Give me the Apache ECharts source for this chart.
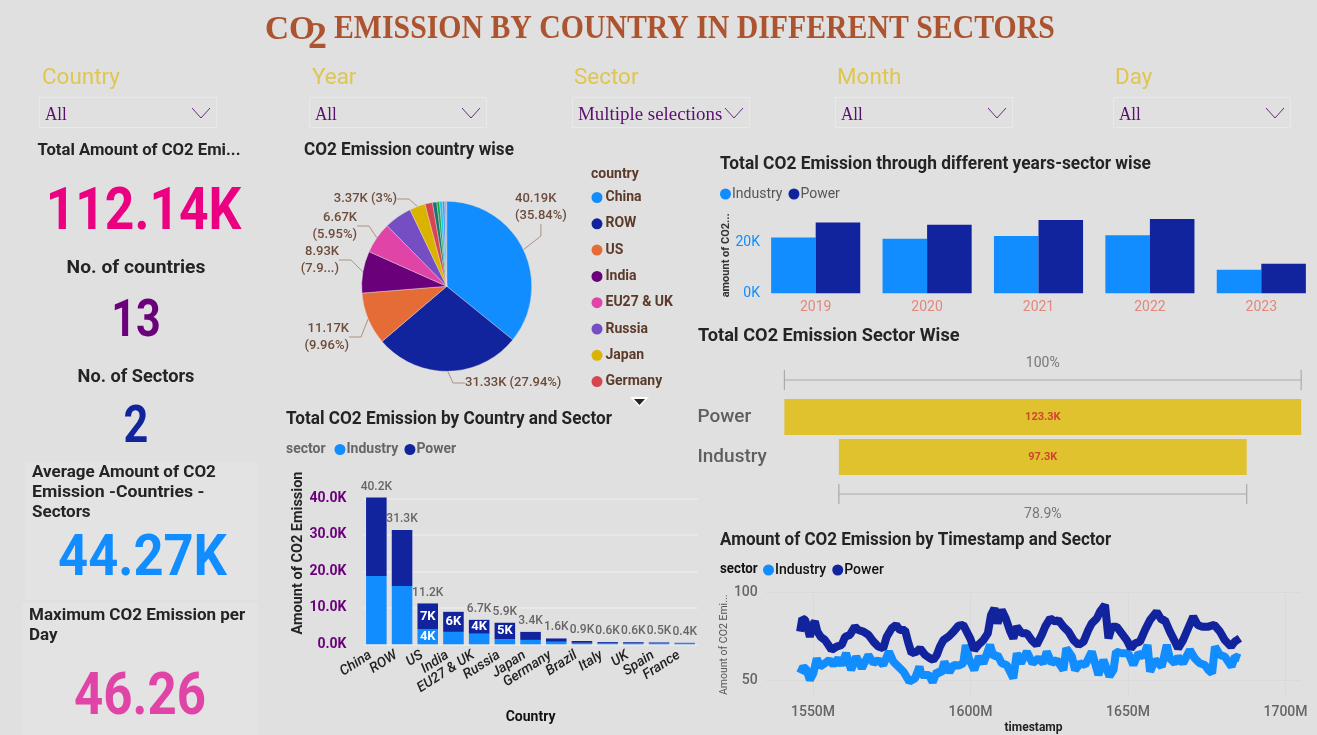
<!DOCTYPE html>
<html><head><meta charset="utf-8">
<style>html,body{margin:0;padding:0;background:#E0E0E0;width:100%;height:100%;overflow:hidden}#c{width:1317px;height:735px}</style>
<script src="https://cdn.jsdelivr.net/npm/echarts@6/dist/echarts.min.js"></script>
</head><body><div id="c"></div>
<script>
const BLUE='#118DFF', NAVY='#12239E';
const countries=['China','ROW','US','India','EU27 & UK','Russia','Japan','Germany','Brazil','Italy','UK','Spain','France'];
const countryTotals=[40.19,31.33,11.17,8.93,6.67,5.9,3.37,1.6,0.9,0.6,0.6,0.5,0.4];
const countryPercents=[35.84,27.94,9.96,7.96,5.95,5.26,3,1.43,0.8,0.54,0.54,0.45,0.36];
const countryColors=['#118DFF','#12239E','#E66C37','#6B007B','#E044A7','#744EC2','#D9B300','#D64550','#197278','#1AAB40','#15C6F4','#4092FF','#A8A8C8'];
const industryByCountry=[18.7,16.0,4.1,3.4,2.9,1.4,1.2,0.7,0.4,0.3,0.4,0.35,0.3];
const powerByCountry=[21.5,15.3,7.1,5.5,3.8,4.5,2.2,0.9,0.5,0.3,0.2,0.15,0.1];
const years=['2019','2020','2021','2022','2023'];
const industryByYear=[22.1,21.6,22.6,22.9,9.3];
const powerByYear=[28.0,27.1,29.0,29.4,11.7];
const sectors=['Power','Industry'];
const sectorTotals=[123.3,97.3];
const powerSeries=[[1545.9,77.5],[1546.6,85],[1547.5,84.1],[1548.2,80.3],[1549,74.6],[1549.9,81.3],[1550.6,83.2],[1551.4,77.5],[1552.4,74.6],[1553.8,72.7],[1554.9,69.9],[1555.9,67.1],[1557.5,69],[1559.1,69.9],[1560.2,74.6],[1561.7,75.6],[1563.3,80.3],[1564.4,78.4],[1566,77.5],[1567.6,75.6],[1569.2,71.8],[1570.7,69],[1572.3,68],[1573.4,74.6],[1575,79.4],[1576.4,81.3],[1577.6,78.4],[1579.2,78.4],[1580.3,70.9],[1581.3,65.2],[1582.9,66.1],[1584,68],[1585.6,64.2],[1587.2,62.3],[1588.2,61.4],[1589.3,64.2],[1590.3,69],[1591.4,72.7],[1593,74.6],[1594.6,77.5],[1596.2,80.9],[1597.7,81.3],[1598.8,77.5],[1599.9,73.7],[1601.2,67.1],[1602.5,69.9],[1604.1,72.7],[1605.5,76.5],[1606.5,86.9],[1607.6,90.7],[1608.6,82.2],[1609.9,89.8],[1611.2,85],[1612.6,77.5],[1613.6,73.7],[1614.7,80.3],[1616.3,76.5],[1617.9,76.5],[1619.4,72.7],[1621,69.9],[1622.6,75.6],[1623.7,80.3],[1625.3,85],[1626.9,83.2],[1627.9,84.1],[1629.5,80.3],[1631.1,77.5],[1632.7,72.7],[1634.3,69.9],[1635.9,71.8],[1637.4,78.4],[1638.5,82.2],[1640.1,85],[1641.1,88.8],[1642.7,92.6],[1643.8,73.7],[1644.9,80.3],[1646.4,80.3],[1648,76.5],[1649.6,72.7],[1650.9,68],[1652.3,70.9],[1653.8,71.8],[1655.4,78.4],[1657,84.1],[1659.1,88.8],[1660.7,84.1],[1661.7,84.1],[1663.3,77.5],[1664.9,71.8],[1665.9,68],[1667.5,72.7],[1669.1,79.4],[1670.7,86],[1672.1,81.3],[1673.6,80.3],[1675.5,80.3],[1677.4,81.3],[1679.2,77.5],[1680.7,72.7],[1682.7,69],[1683.9,71.8],[1685.5,73.7]];
const industrySeries=[[1545.9,53.8],[1546.9,57.6],[1548,55.7],[1549,50],[1550.1,53.8],[1551.2,62.3],[1552.2,57.6],[1553.8,59.5],[1555.2,61.4],[1556.5,58.5],[1558,62.3],[1559.1,58.5],[1560.5,65.2],[1562.1,55.7],[1563.7,63.3],[1565.5,56.7],[1567.6,64.2],[1569.2,59.5],[1570.7,61.4],[1572.3,58.5],[1574.1,66.1],[1575.5,60.4],[1577.1,57.6],[1578.7,54.8],[1580.6,49.1],[1582.4,51],[1583.8,57.6],[1584.4,52.9],[1585.6,52.9],[1586.8,52.9],[1588,48.7],[1589.3,54.8],[1590.7,53.8],[1591.7,60.4],[1593.3,54.4],[1594.6,58.5],[1596.2,58.2],[1597.7,59.5],[1598.5,69.9],[1599.5,62.3],[1601.2,55.7],[1602.7,63.3],[1604.1,59.5],[1606.2,69.9],[1607.3,63.3],[1608.6,64.2],[1609.9,59.5],[1611.5,58.5],[1613.6,51],[1614.7,65.2],[1616,59.5],[1617.9,66.1],[1619.7,59.5],[1621.6,62.3],[1623.1,59.5],[1624.2,66.1],[1625.8,59.5],[1627.4,61.4],[1629.5,55.7],[1630.4,68],[1632.2,63.3],[1633.2,55.7],[1634.8,59.5],[1636.4,58.5],[1638.5,66.1],[1640.6,52.9],[1642.2,61.4],[1644.1,52],[1645.4,55.7],[1646.2,66.1],[1648,65.2],[1650.1,65.2],[1651.7,58.5],[1653.3,65.2],[1654.9,63.3],[1656.2,69.9],[1657,54.8],[1658.6,61.4],[1660.7,57.6],[1662.3,69.9],[1663.3,62.3],[1664.9,59.5],[1665.9,63.3],[1667.5,59.5],[1669.6,67.1],[1671.2,62.3],[1672.8,59.5],[1674.4,58.5],[1675.5,55.7],[1676.7,53.8],[1677.6,69],[1679.2,64.2],[1680.7,63.3],[1682.9,57.6],[1683.9,63.3],[1685.5,62.3]];
const slicerLabels=['Country','Year','Sector','Month','Day'];
const slicerValues=['All','All','Multiple selections','All','All'];

const UI='Roboto, sans-serif', SERIF='"Liberation Serif", serif';
function t(text,x,y,size,fill,weight,align,family,sx){
  const yy=(family===SERIF)?y:y+size*0.09;
  return {type:'text',x:x,y:yy,scaleX:sx||1,silent:true,style:{text:text,fill:fill,fontSize:size,fontWeight:weight||'normal',fontFamily:family||UI,textAlign:align||'left',textVerticalAlign:'middle'}};
}
const g=[];
g.push({type:'rect',shape:{x:25,y:462,width:233,height:138},style:{fill:'#E3E3E3'},z:-1});
g.push({type:'rect',shape:{x:22,y:603,width:236,height:132},style:{fill:'#E3E3E3'},z:-1});
const TITLE='#AC5430';
g.push(t('CO',265,30,34,TITLE,'bold','left',SERIF,0.98));
g.push(t('2',308,38,38,TITLE,'bold','left',SERIF,1));
g.push(t('EMISSION BY COUNTRY IN DIFFERENT SECTORS',334,29,34,TITLE,'bold','left',SERIF,0.876));
const slicerX=[39,309,572,835,1113], slicerLabelX=[42,312,574,837,1115];
slicerLabels.forEach((s,i)=>{
  g.push(t(s,slicerLabelX[i],77,22,'#DFC650','normal','left',UI,1.02));
  g.push({type:'rect',shape:{x:slicerX[i]+.5,y:97.5,width:177,height:30},style:{fill:'none',stroke:'#E9E9E9',lineWidth:1}});
  g.push(t(slicerValues[i],slicerX[i]+6,115,18,'#5A0F6E','normal','left',SERIF,i===2?1.05:0.95));
  const cx=slicerX[i]+162;
  g.push({type:'polyline',shape:{points:[[cx-9,108],[cx,118],[cx+9,108]]},style:{stroke:'#6B2A80',lineWidth:1,fill:'none'}});
});
const KT='#252423';
g.push(t('Total Amount of CO2 Emi...',139,149,17,KT,'bold','center',UI,0.98));
g.push(t('112.14K',143.5,209.5,58.6,'#EB0082','bold','center',UI,0.88));
g.push(t('No. of countries',136,267,18,KT,'bold','center',UI,1.07));
g.push(t('13',136,318.5,52,'#6B007B','bold','center',UI,0.83));
g.push(t('No. of Sectors',136,376,18,KT,'bold','center',UI,1.01));
g.push(t('2',136,424.5,52,NAVY,'bold','center',UI,0.83));
g.push(t('Average Amount of CO2',32,471,17,KT,'bold','left',UI,1));
g.push(t('Emission -Countries -',32,491,17,KT,'bold','left',UI,1.04));
g.push(t('Sectors',32,511,17,KT,'bold','left',UI,1));
g.push(t('44.27K',142.5,555.7,57,BLUE,'bold','center',UI,0.92));
g.push(t('Maximum CO2 Emission per',29,614,17,KT,'bold','left',UI,1));
g.push(t('Day',29,634,17,KT,'bold','left',UI,1));
g.push(t('46.26',140,694,60,'#E044A7','bold','center',UI,0.85));
g.push(t('CO2 Emission country wise',304,149,18,KT,'bold','left',UI,0.952));
g.push(t('country',591,173,14,'#5C3A2A','bold','left',UI,1));
g.push({type:'polygon',shape:{points:[[630,397],[649,397],[639.5,407]]},style:{fill:'#FFFFFF'}});
g.push({type:'polygon',shape:{points:[[634,399],[645,399],[639.5,405]]},style:{fill:'#252423'}});
g.push(t('Total CO2 Emission by Country and Sector',286,418,18,KT,'bold','left',UI,0.955));
g.push(t('sector',286,448,14,'#666666','bold','left',UI,1));
g.push(t('Total CO2 Emission through different years-sector wise',720,163,18,KT,'bold','left',UI,0.963));
g.push(t('Total CO2 Emission Sector Wise',698,335,18,KT,'bold','left',UI,1.01));
g.push(t('Amount of CO2 Emission by Timestamp and Sector',720,539,18,KT,'bold','left',UI,0.945));
g.push(t('sector',720,568,14,'#111111','bold','left',UI,0.95));

const labelled=new Set(['China','ROW','US','India','EU27 & UK','Japan']);
const pieLabelPlaces={'China':[515,207,'left'],'ROW':[465,383,'left'],'US':[349,337,'right'],'India':[339,260,'right'],'EU27 & UK':[357,226,'right'],'Japan':[397,199,'right']};
const pieData=countries.map((n,i)=>({name:n,value:countryTotals[i],pct:countryPercents[i],itemStyle:{color:countryColors[i]},label:{show:labelled.has(n)},labelLine:{show:labelled.has(n)}}));
function pieLabel(p){
  const pct=p.data.pct, k=p.value.toFixed(2)+'K';
  if(p.name==='ROW') return k+' ('+pct+'%)';
  if(p.name==='Japan') return '3.37K (3%)';
  if(p.name==='India') return k+'\n(7.9...)';
  return k+'\n('+pct+'%)';
}
const legendBase={icon:'circle',itemWidth:11,itemHeight:11,selectedMode:false,padding:0,itemStyle:{borderWidth:0}};
const sparseInside=new Set(['US','India','EU27 & UK','Russia']);
const spacer=sectorTotals.map(v=>(sectorTotals[0]-v)/2);
const brackets=[[spacer[0],spacer[0]+sectorTotals[0],0,-1],[spacer[1],spacer[1]+sectorTotals[1],1,1]];
const pctLabels=sectorTotals.map(v=>(v/sectorTotals[0]*100).toFixed(v===sectorTotals[0]?0:1)+'%');

const option={
  backgroundColor:'#E0E0E0',animation:false,
  textStyle:{fontFamily:UI},
  graphic:g,
  legend:[
    Object.assign({},legendBase,{data:countries.slice(0,8),orient:'vertical',left:591.5,top:190.5,itemGap:12.3,textStyle:{color:'#5C3A2A',fontSize:14,fontWeight:'bold',padding:[0,0,0,-2]}}),
    Object.assign({},legendBase,{data:['Industry','Power'],left:334.5,top:442.5,itemGap:6,textStyle:{color:'#666666',fontSize:14,fontWeight:'bold',padding:[0,0,0,-4]}}),
    Object.assign({},legendBase,{data:['Industry','Power'],left:720,top:187,itemGap:6,textStyle:{color:'#555555',fontSize:14,padding:[0,0,0,-4]}}),
    Object.assign({},legendBase,{data:['Industry','Power'],left:763,top:563,itemGap:6,textStyle:{color:'#111111',fontSize:14,fontWeight:'500',padding:[0,0,0,-4]}})
  ],
  grid:[
    {left:760,top:217.4,width:557.6,height:75.9},
    {left:363.5,top:461.8,width:334.1,height:182.5},
    {left:784.4,top:397,width:516.8,height:80},
    {left:765.75,top:592,width:535.5,height:105.6}
  ],
  xAxis:[
    {gridIndex:0,type:'category',data:years,axisLine:{show:false},axisTick:{show:false},axisLabel:{color:'#E2877B',fontSize:14,margin:7}},
    {gridIndex:1,type:'category',data:countries,axisLine:{show:false},axisTick:{show:false},name:'Country',nameLocation:'middle',nameGap:66,nameTextStyle:{color:'#111',fontSize:14,fontWeight:'bold'},
      axisLabel:{interval:0,rotate:33,color:'#222',fontStyle:'italic',fontSize:14,fontWeight:'500',margin:6,padding:[0,7,0,0]}},
    {gridIndex:2,type:'value',min:0,max:sectorTotals[0],show:false},
    {gridIndex:3,type:'value',min:1535,max:1705,name:'timestamp',nameLocation:'middle',nameGap:24,nameTextStyle:{color:'#222',fontSize:12,fontWeight:'bold'},
      axisLine:{show:false},
      axisTick:{show:false,customValues:[1550,1600,1650,1700]},
      splitLine:{show:true,lineStyle:{color:'#D4D4D4',type:'dotted'}},
      axisLabel:{customValues:[1550,1600,1650,1700],color:'#666',fontSize:14,fontWeight:'500',margin:8,formatter:v=>v+'M'}}
  ],
  yAxis:[
    {gridIndex:0,type:'value',min:0,max:30,name:'amount of CO2...',nameLocation:'middle',nameGap:23,nameTextStyle:{color:'#333',fontSize:11,fontWeight:'bold'},
      axisLine:{show:false},axisTick:{show:false,customValues:[0,20]},splitLine:{show:false},
      axisLabel:{customValues:[0,20],color:BLUE,fontSize:14,margin:0,formatter:v=>v+'K'}},
    {gridIndex:1,type:'value',min:0,max:50,interval:10,name:'Amount of CO2 Emission',nameLocation:'middle',nameGap:64,nameTextStyle:{color:'#252423',fontSize:14.5,fontWeight:'bold',verticalAlign:'middle'},nameRotate:90,
      axisLine:{show:false},axisTick:{show:false},splitLine:{showMaxLine:false,lineStyle:{color:'#EBEBEB',width:1.5}},
      axisLabel:{color:'#6B007B',fontSize:14,fontWeight:'bold',margin:17,formatter:v=>v>40?'':v.toFixed(1)+'K'}},
    {gridIndex:2,type:'category',data:sectors,inverse:true,axisLine:{show:false},axisTick:{show:false},
      axisLabel:{color:'#605E5C',fontSize:19,fontWeight:'500',align:'left',margin:87,padding:[4,0,0,0]}},
    {gridIndex:3,type:'value',min:40,max:100,name:'Amount of CO2 Emi...',nameLocation:'middle',nameGap:29,nameTextStyle:{color:'#555',fontSize:10.5},
      axisLine:{show:false},axisTick:{show:false,customValues:[50,100]},
      splitLine:{show:true,lineStyle:{color:'#D4D4D4',type:'dotted'}},
      axisLabel:{customValues:[50,100],color:'#666',fontSize:14,fontWeight:'500',margin:8}}
  ],
  series:[
    {type:'pie',name:'Country',center:[446.7,286.3],radius:[0,85],startAngle:90,clockwise:true,data:pieData,
      label:{position:'outside',formatter:pieLabel,color:'#6E4B3A',fontSize:13,fontWeight:'500',lineHeight:17},
      labelLine:{length:10,length2:12,lineStyle:{color:'#B09080',width:1}},
      labelLayout:p=>{const c=pieLabelPlaces[countries[p.dataIndex]];return c?{x:c[0],y:c[1],align:c[2],verticalAlign:'middle'}:{};},
      itemStyle:{borderColor:'#E0E0E0',borderWidth:.4}},
    {type:'bar',name:'Industry',xAxisIndex:0,yAxisIndex:0,data:industryByYear,barGap:0,barCategoryGap:'20%',itemStyle:{color:BLUE}},
    {type:'bar',name:'Power',xAxisIndex:0,yAxisIndex:0,data:powerByYear,barGap:0,barCategoryGap:'20%',itemStyle:{color:NAVY}},
    {type:'bar',name:'Industry',xAxisIndex:1,yAxisIndex:1,stack:'c',data:industryByCountry,barCategoryGap:'20%',barGap:'-100%',itemStyle:{color:BLUE},
      label:{show:true,position:'inside',color:'#fff',fontWeight:'bold',fontSize:13,formatter:p=>p.name==='US'?Math.round(p.value)+'K':''}},
    {type:'bar',name:'Power',xAxisIndex:1,yAxisIndex:1,stack:'c',data:powerByCountry,itemStyle:{color:NAVY},
      label:{show:true,position:'inside',color:'#fff',fontWeight:'bold',fontSize:13,formatter:p=>sparseInside.has(p.name)?Math.round(p.value)+'K':''}},
    {type:'bar',name:'Total',xAxisIndex:1,yAxisIndex:1,data:countryTotals,itemStyle:{color:'rgba(0,0,0,0)'},
      label:{show:true,position:'top',distance:5,color:'#666',fontSize:12,fontWeight:'500',formatter:p=>p.name==='India'?'':p.value.toFixed(1)+'K'}},
    {type:'bar',name:'Spacer',xAxisIndex:2,yAxisIndex:2,stack:'f',data:spacer,barCategoryGap:'10%',itemStyle:{color:'rgba(0,0,0,0)'},silent:true},
    {type:'bar',name:'Sector total',xAxisIndex:2,yAxisIndex:2,stack:'f',data:sectorTotals,itemStyle:{color:'#E0C12E'},
      label:{show:true,position:'inside',color:'#D0452F',fontSize:11,fontWeight:'bold',formatter:p=>p.value.toFixed(1)+'K'}},
    {type:'custom',name:'Bracket',xAxisIndex:2,yAxisIndex:2,data:brackets,encode:{x:[0,1],y:2},clip:false,silent:true,
      renderItem:(params,api)=>{
        const a=api.coord([api.value(0),api.value(2)]), b=api.coord([api.value(1),api.value(2)]), d=api.value(3);
        const y=a[1]+d*37, st={stroke:'#AAAAAA',lineWidth:1.2};
        return {type:'group',children:[
          {type:'line',shape:{x1:a[0],y1:y,x2:b[0],y2:y},style:st},
          {type:'line',shape:{x1:a[0],y1:y-10,x2:a[0],y2:y+10},style:st},
          {type:'line',shape:{x1:b[0],y1:y-10,x2:b[0],y2:y+10},style:st},
          {type:'text',x:(a[0]+b[0])/2,y:y+(d>0?20.5:-16.5),style:{text:pctLabels[params.dataIndex],fill:'#777',fontSize:14,fontFamily:UI,textAlign:'center',textVerticalAlign:'middle'}}
        ]};
      }},
    {type:'line',name:'Industry',xAxisIndex:3,yAxisIndex:3,data:industrySeries,showSymbol:false,lineStyle:{color:BLUE,width:8,join:'bevel'},itemStyle:{color:BLUE}},
    {type:'line',name:'Power',xAxisIndex:3,yAxisIndex:3,data:powerSeries,showSymbol:false,lineStyle:{color:NAVY,width:8,join:'bevel'},itemStyle:{color:NAVY}}
  ]
};
const chart=echarts.init(document.getElementById('c'));
chart.setOption(option);
</script></body></html>
